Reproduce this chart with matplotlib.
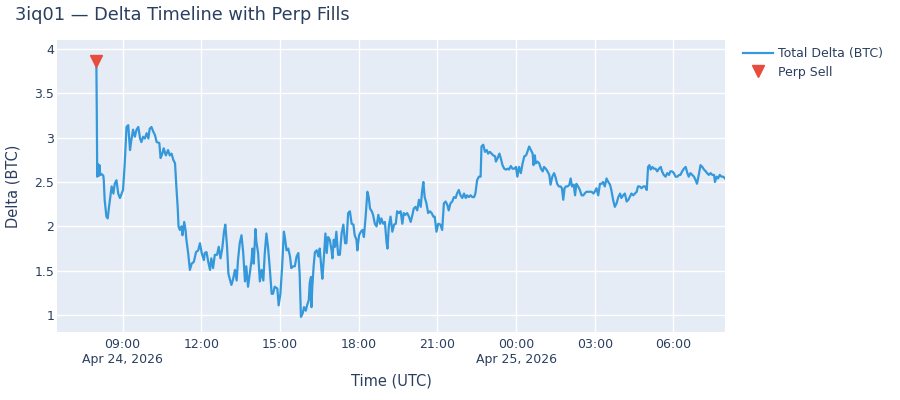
import matplotlib
matplotlib.use("Agg")
import matplotlib.pyplot as plt
import pandas as pd

# ---------------- data ----------------
START = "2026-04-24 08:00"

# minutes since START
minutes = [
    0, 1, 2, 3, 4, 6, 7, 9, 12, 16, 17, 19, 23, 26, 29, 35, 39, 42, 46, 50, 54, 61, 65, 69, 73, 77, 80, 84, 88, 92,
    96, 100, 103, 107, 111, 115, 119, 122, 126, 130, 134, 138, 144, 147, 151, 154, 159, 164, 168, 172, 176, 180,
    183, 186, 188, 191, 195, 197, 201, 204, 206, 210, 214, 218, 223, 228, 233, 237, 241, 246,
    248, 252, 256, 260, 263, 267, 271, 276, 280, 284, 288, 292, 295, 299, 302, 305, 309, 313, 317, 321, 324, 328,
    332, 336, 340, 343, 347, 351, 355, 357, 360, 364, 366, 370, 374, 378, 382, 385, 389, 393, 397, 401, 404, 408,
    414, 417, 421, 425, 429, 432, 435, 439, 443, 446, 450, 454, 458, 462, 465, 468, 472, 475, 479, 482, 486, 488,
    491, 492, 494, 497, 500,
    504, 508, 511, 515, 517, 520, 524, 527, 530, 534, 538, 540, 543, 546, 549, 553, 557, 561, 565, 569, 572, 576,
    580, 584, 588, 591, 595, 597, 601, 605, 609, 612, 616, 620, 623, 626, 630, 633, 637, 641, 645, 649, 652, 656,
    660, 664, 666, 669, 673, 677, 681, 685, 688, 692, 696, 700, 703, 707, 711, 715, 719, 723, 726, 730, 734, 738,
    742, 745, 748,
    751, 755, 759, 763, 767, 771, 774, 778, 782, 787, 791, 795, 799, 803, 806, 810, 814, 818, 822, 825, 829, 833,
    837, 841, 845, 848, 852, 856, 860, 864, 867, 871, 875, 879, 881, 885, 889, 893, 896, 900, 904, 908, 912, 914,
    918, 922, 925, 929, 933, 937, 941, 944, 948, 952, 956, 960, 963, 967, 971, 975, 979, 983, 986, 990, 994, 998,
    1000,
    1003, 1005, 1009, 1013, 1017, 1021, 1024, 1028, 1032, 1036, 1039, 1043, 1047, 1050, 1054, 1058, 1062, 1065,
    1068, 1071, 1074, 1078, 1082, 1085, 1088, 1092, 1095, 1098, 1102, 1106, 1110, 1114, 1117, 1121, 1125, 1129,
    1133, 1137, 1140, 1144, 1148, 1152, 1156, 1159, 1163, 1167, 1171, 1175, 1178, 1182, 1186, 1190, 1194, 1198,
    1201, 1205, 1209, 1213, 1217, 1220, 1224, 1228, 1232, 1236, 1239, 1243, 1247, 1251,
    1255, 1259, 1262, 1265, 1268, 1272, 1275, 1279, 1283, 1287, 1291, 1294, 1298, 1302, 1306, 1310, 1313, 1317,
    1321, 1325, 1329, 1333, 1336, 1340, 1344, 1348, 1352, 1355, 1359, 1363, 1367, 1371, 1374, 1378, 1382, 1386,
    1390, 1394, 1397, 1401, 1405, 1409, 1413, 1415, 1419, 1422, 1426, 1430, 1434, 1438,
]

total_delta = [
    3.86, 3.30, 2.56, 2.58, 2.70, 2.57, 2.69, 2.58, 2.59, 2.57, 2.52, 2.30, 2.11, 2.09, 2.22, 2.45, 2.37, 2.48, 2.52,
    2.37, 2.32, 2.41, 2.71, 3.12, 3.14, 2.86, 2.97, 3.09, 3.01, 3.09,
    3.12, 2.99, 2.95, 3.01, 2.99, 3.05, 2.99, 3.10, 3.12, 3.07, 3.03, 2.95, 2.94, 2.77, 2.82, 2.88, 2.80, 2.86, 2.80,
    2.82, 2.75, 2.71,
    2.45, 2.22, 2.00, 1.96, 2.00, 1.90, 2.05, 1.96, 1.85, 1.70, 1.51, 1.58, 1.60, 1.71, 1.73, 1.81, 1.70, 1.62,
    1.70, 1.71, 1.60, 1.51, 1.64, 1.53, 1.68, 1.68, 1.77, 1.64, 1.75, 1.94, 2.02, 1.77, 1.47, 1.41, 1.34, 1.41, 1.51,
    1.39, 1.62, 1.81,
    1.90, 1.70, 1.38, 1.55, 1.32, 1.47, 1.62, 1.75, 1.58, 1.97, 1.83, 1.70, 1.38, 1.51, 1.39, 1.68, 1.92, 1.75, 1.51,
    1.24, 1.24, 1.32,
    1.30, 1.11, 1.24, 1.55, 1.94, 1.85, 1.73, 1.75, 1.66, 1.53, 1.55, 1.55, 1.66, 1.70, 1.47, 0.98, 1.02, 1.09, 1.05,
    1.11, 1.17, 1.36,
    1.43, 1.09, 1.32, 1.55, 1.71,
    1.73, 1.66, 1.75, 1.51, 1.41, 1.62, 1.92, 1.70, 1.88, 1.85, 1.73, 1.64, 1.85, 1.77, 1.94, 1.68, 1.68, 1.92, 2.02,
    1.81, 1.81, 2.15,
    2.17, 2.03, 2.02, 1.90, 1.85, 1.73, 1.90, 1.94, 1.96, 1.88, 2.11, 2.39, 2.33, 2.20, 2.17, 2.13, 2.03, 2.00, 2.13,
    2.03, 2.09, 2.03,
    2.05, 1.81, 1.75, 2.00, 2.11, 1.94, 2.02, 2.03, 2.17, 2.15, 2.17, 2.03, 2.15, 2.13, 2.15, 2.11, 2.05, 2.13, 2.20,
    2.22, 2.18, 2.30,
    2.22, 2.39, 2.50,
    2.33, 2.26, 2.15, 2.17, 2.15, 2.11, 2.11, 1.94, 2.03, 2.02, 1.96, 2.26, 2.28, 2.24, 2.18, 2.26, 2.28, 2.33, 2.32,
    2.37, 2.41, 2.35,
    2.32, 2.37, 2.32, 2.35, 2.33, 2.35, 2.33, 2.33, 2.37, 2.52, 2.56, 2.56, 2.90, 2.92, 2.84, 2.86, 2.82, 2.84, 2.82,
    2.80, 2.79, 2.73,
    2.77, 2.82, 2.77, 2.69, 2.65, 2.64, 2.65, 2.64, 2.68, 2.65, 2.65, 2.67, 2.56, 2.67, 2.60, 2.71, 2.79, 2.80, 2.84,
    2.90, 2.86, 2.82,
    2.69,
    2.80, 2.71, 2.73, 2.71, 2.65, 2.62, 2.67, 2.65, 2.62, 2.58, 2.47, 2.56, 2.60, 2.56, 2.48, 2.45, 2.45, 2.43,
    2.30, 2.43, 2.45, 2.45, 2.47, 2.54, 2.45, 2.47, 2.35, 2.48, 2.45, 2.41, 2.35, 2.35, 2.37, 2.39, 2.39, 2.39,
    2.39, 2.37, 2.39, 2.43, 2.35, 2.48, 2.48, 2.50, 2.45, 2.54, 2.50, 2.47, 2.41, 2.30, 2.22, 2.26, 2.33, 2.37,
    2.32, 2.35, 2.37, 2.28, 2.30, 2.33, 2.37, 2.35, 2.37, 2.39, 2.45, 2.45, 2.43, 2.45,
    2.45, 2.41, 2.67, 2.69, 2.64, 2.67, 2.65, 2.65, 2.62, 2.65, 2.67, 2.62, 2.58, 2.56, 2.60, 2.58, 2.62, 2.62,
    2.60, 2.56, 2.56, 2.58, 2.58, 2.62, 2.65, 2.67, 2.60, 2.56, 2.60, 2.58, 2.56, 2.52, 2.48, 2.58, 2.69, 2.67,
    2.64, 2.62, 2.60, 2.58, 2.60, 2.58, 2.58, 2.50, 2.56, 2.54, 2.58, 2.56, 2.56, 2.54,
]

sell_minutes = [0]
sell_delta = [3.86]

y_ticks = [1, 1.5, 2, 2.5, 3, 3.5, 4]
x_tick_times = ["2026-04-24 09:00", "2026-04-24 12:00", "2026-04-24 15:00", "2026-04-24 18:00",
                "2026-04-24 21:00", "2026-04-25 00:00", "2026-04-25 03:00", "2026-04-25 06:00"]
x_tick_labels = ["09:00\nApr 24, 2026", "12:00", "15:00", "18:00", "21:00",
                 "00:00\nApr 25, 2026", "03:00", "06:00"]

# ---------------- plot ----------------
TXT = "#2a3f5f"
plt.rcParams["font.family"] = ["DejaVu Sans"]

t = pd.Timestamp(START) + pd.to_timedelta(minutes, unit="m")
ts = pd.Timestamp(START) + pd.to_timedelta(sell_minutes, unit="m")

fig = plt.figure(figsize=(9, 4), dpi=100)
W, H = 900, 400
L, R, T, B = 57, 725, 40, 332
ax = fig.add_axes([L / W, 1 - B / H, (R - L) / W, (B - T) / H])
ax.set_facecolor("#E5ECF6")

ax.plot(t, total_delta, color="#3498db", lw=1.6, label="Total Delta (BTC)", zorder=3)
ax.plot(ts, sell_delta, ls="none", marker="v", ms=9, color="#e74c3c",
        label="Perp Sell", zorder=4)

ax.set_xlim(t[0] - pd.Timedelta(minutes=90), t[-1])
ax.set_ylim(0.81, 4.10)
ax.set_yticks(y_ticks)
ax.set_yticklabels([f"{v:g}" for v in y_ticks])
ax.set_xticks(pd.to_datetime(x_tick_times))
ax.set_xticklabels(x_tick_labels)

ax.grid(True, color="white", lw=1)
ax.set_axisbelow(True)
for s in ax.spines.values():
    s.set_visible(False)
ax.tick_params(axis="both", length=0, labelsize=9, colors=TXT)
ax.tick_params(axis="x", pad=4)
ax.tick_params(axis="y", pad=2)

fig.text(15 / W, 1 - 15 / H, "3iq01 — Delta Timeline with Perp Fills",
         fontsize=12.75, color=TXT, ha="left", va="center")
fig.text(13.5 / W, 1 - ((T + B) / 2) / H, "Delta (BTC)", rotation=90,
         fontsize=10.5, color=TXT, ha="center", va="center")
fig.text(((L + R) / 2) / W, 1 - 381.5 / H, "Time (UTC)",
         fontsize=10.5, color=TXT, ha="center", va="center")

leg = fig.legend(loc="upper left", bbox_to_anchor=(743 / W, 1 - 47 / H), frameon=False,
                 fontsize=9, handlelength=2.4, handletextpad=0.4, labelspacing=0.45,
                 borderaxespad=0, borderpad=0, numpoints=1)
for txt in leg.get_texts():
    txt.set_color(TXT)

fig.savefig("out.png", dpi=100)
